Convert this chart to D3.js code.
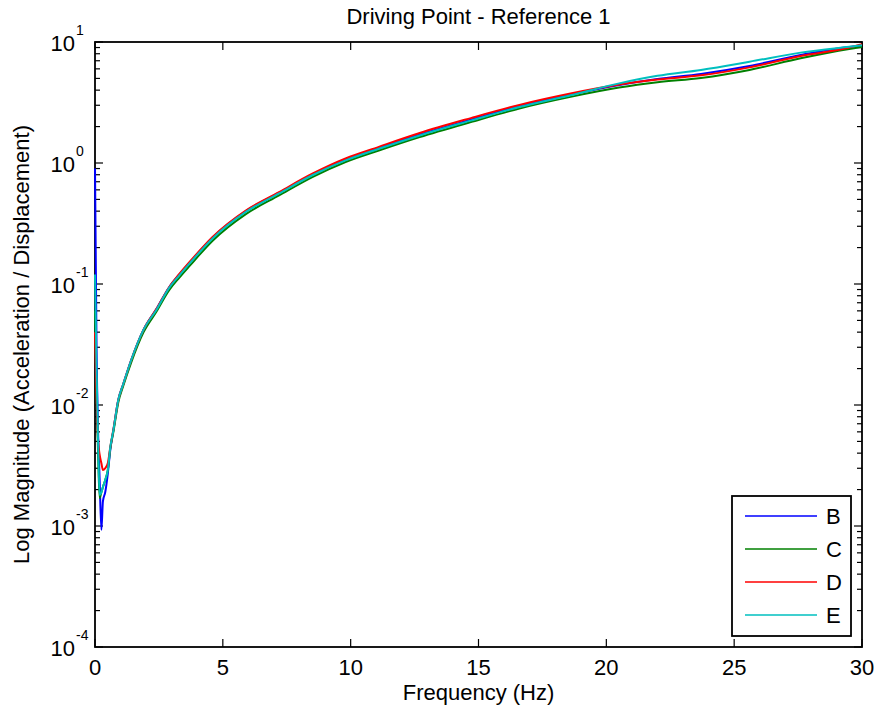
<!DOCTYPE html>
<html>
<head>
<meta charset="utf-8">
<script src="https://cdn.jsdelivr.net/npm/d3@7"></script>
<style>
  body { margin: 0; background: #fff; }
  text { font-family: Arial, "Liberation Sans", Helvetica, sans-serif; fill: #000; }
</style>
</head>
<body>
<div id="chart"></div>
<script>
// frequency points (Hz)
const freq = [0, 0.06, 0.12, 0.18, 0.25, 0.31, 0.4, 0.5, 0.6, 0.72, 0.91, 1.11, 1.4, 1.9, 2.4, 2.9, 3.3, 3.7, 4.6, 5.9, 7.2, 8.5, 9.8, 11.1, 12.7, 14.7, 16.6, 18.6, 20.5, 22.0, 23.7, 25.6, 27.6, 29.5, 30];

// magnitudes
const magB = [0.9, 0.03, 0.006, 0.0025, 0.00093, 0.0016, 0.0019, 0.0027, 0.0043, 0.0062, 0.011, 0.015, 0.023, 0.042, 0.062, 0.094, 0.120, 0.150, 0.242, 0.400, 0.568, 0.800, 1.07, 1.33, 1.72, 2.28, 2.95, 3.68, 4.42, 4.95, 5.45, 6.34, 7.81, 9.09, 9.3];
const magC = [0.06, 0.012, 0.004, 0.0017, 0.0019, 0.0021, 0.0024, 0.0029, 0.0044, 0.006, 0.0105, 0.0145, 0.022, 0.040, 0.059, 0.089, 0.113, 0.141, 0.228, 0.378, 0.540, 0.765, 1.02, 1.27, 1.64, 2.18, 2.82, 3.52, 4.2, 4.65, 5.05, 5.88, 7.33, 8.75, 9.1];
const magD = [0.04, 0.012, 0.0052, 0.0039, 0.0033, 0.0029, 0.0030, 0.0033, 0.0045, 0.0063, 0.011, 0.015, 0.023, 0.042, 0.062, 0.094, 0.121, 0.152, 0.245, 0.405, 0.575, 0.815, 1.09, 1.36, 1.77, 2.35, 3.02, 3.75, 4.45, 4.9, 5.3, 6.17, 7.66, 9.0, 9.6];
const magE = [0.12, 0.02, 0.005, 0.0018, 0.0019, 0.0021, 0.0024, 0.0029, 0.0045, 0.0062, 0.011, 0.015, 0.023, 0.042, 0.061, 0.093, 0.118, 0.148, 0.238, 0.394, 0.560, 0.792, 1.05, 1.31, 1.69, 2.24, 2.90, 3.63, 4.55, 5.25, 5.88, 6.87, 8.17, 9.14, 9.4];

const names = ["B", "C", "D", "E"];
const colors = ["#0000ff", "#008000", "#ff0000", "#00bfbf"];
const xTicks = [0, 5, 10, 15, 20, 25, 30];
const yExps = [-4, -3, -2, -1, 0, 1];

const W = 878, H = 719;
const pLeft = 95, pRight = 862, pTop = 42, pBottom = 647;
const fs = "22px";

const svg = d3.select("#chart").append("svg")
  .attr("width", W).attr("height", H);

const x = d3.scaleLinear().domain([0, 30]).range([pLeft, pRight]);
const y = d3.scaleLog().domain([1e-4, 10]).range([pBottom, pTop]);

// axes box
svg.append("rect")
  .attr("x", pLeft).attr("y", pTop)
  .attr("width", pRight - pLeft).attr("height", pBottom - pTop)
  .attr("fill", "none").attr("stroke", "#000").attr("stroke-width", 1.8);

// ticks, inward on all four sides
const majorLen = 8, minorLen = 5;
const tk = svg.append("g").attr("stroke", "#000").attr("stroke-width", 1.2);

xTicks.forEach(t => {
  tk.append("line").attr("x1", x(t)).attr("x2", x(t)).attr("y1", pBottom).attr("y2", pBottom - majorLen);
  tk.append("line").attr("x1", x(t)).attr("x2", x(t)).attr("y1", pTop).attr("y2", pTop + majorLen);
});

let yMinor = [];
for (let e = -4; e < 1; e++) {
  for (let m = 2; m <= 9; m++) yMinor.push(m * Math.pow(10, e));
}
yExps.forEach(e => {
  const v = Math.pow(10, e);
  tk.append("line").attr("x1", pLeft).attr("x2", pLeft + majorLen).attr("y1", y(v)).attr("y2", y(v));
  tk.append("line").attr("x1", pRight).attr("x2", pRight - majorLen).attr("y1", y(v)).attr("y2", y(v));
});
yMinor.forEach(v => {
  tk.append("line").attr("x1", pLeft).attr("x2", pLeft + minorLen).attr("y1", y(v)).attr("y2", y(v));
  tk.append("line").attr("x1", pRight).attr("x2", pRight - minorLen).attr("y1", y(v)).attr("y2", y(v));
});

// curves
const series = [magB, magC, magD, magE];
const line = d3.line()
  .x((d, i) => x(freq[i]))
  .y(d => y(d))
  .curve(d3.curveMonotoneX);

series.forEach((s, k) => {
  svg.append("path")
    .attr("d", line(s))
    .attr("fill", "none")
    .attr("stroke", colors[k])
    .attr("stroke-width", 2)
    .attr("stroke-linejoin", "round");
});

// tick labels
xTicks.forEach(t => {
  svg.append("text")
    .attr("x", x(t)).attr("y", 675)
    .attr("text-anchor", "middle")
    .style("font-size", fs)
    .text(t);
});

yExps.forEach(e => {
  const yy = y(Math.pow(10, e));
  svg.append("text")
    .attr("x", 75).attr("y", yy + 9)
    .attr("text-anchor", "end")
    .style("font-size", fs)
    .text("10");
  svg.append("text")
    .attr("x", 76).attr("y", yy - 7)
    .attr("text-anchor", "start")
    .style("font-size", "14px")
    .text(e);
});

// labels and title
svg.append("text")
  .attr("x", (pLeft + pRight) / 2).attr("y", 700)
  .attr("text-anchor", "middle")
  .style("font-size", fs)
  .text("Frequency (Hz)");

svg.append("text")
  .attr("transform", `translate(29, ${(pTop + pBottom) / 2}) rotate(-90)`)
  .attr("text-anchor", "middle")
  .style("font-size", fs)
  .text("Log Magnitude (Acceleration / Displacement)");

svg.append("text")
  .attr("x", (pLeft + pRight) / 2).attr("y", 24)
  .attr("text-anchor", "middle")
  .style("font-size", fs)
  .text("Driving Point - Reference 1");

// legend
const lg = svg.append("g");
lg.append("rect")
  .attr("x", 732).attr("y", 496).attr("width", 119).attr("height", 140)
  .attr("fill", "#fff").attr("stroke", "#000").attr("stroke-width", 1.8);

const legY = d3.scalePoint().domain(names).range([516, 615]);
names.forEach((n, k) => {
  lg.append("line")
    .attr("x1", 745).attr("x2", 817)
    .attr("y1", legY(n)).attr("y2", legY(n))
    .attr("stroke", colors[k]).attr("stroke-width", 1.5);
  lg.append("text")
    .attr("x", 826).attr("y", legY(n) + 8)
    .style("font-size", fs)
    .text(n);
});
</script>
</body>
</html>
